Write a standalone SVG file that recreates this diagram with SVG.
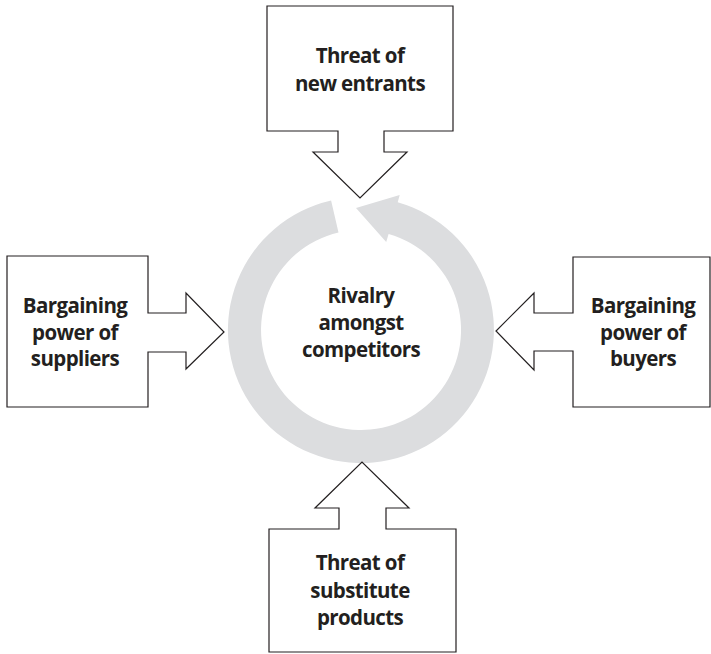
<svg xmlns="http://www.w3.org/2000/svg" width="711" height="654" viewBox="0 0 711 654">
<style>
.shape{fill:#ffffff;stroke:#231f20;stroke-width:1.2;stroke-linejoin:miter}
.lbl{font-family:"Open Sans","Liberation Sans",sans-serif;font-weight:700;font-size:20.5px;letter-spacing:-0.6px;fill:#231f20;text-anchor:middle}
.ring{fill:#dcdddf}
</style>
<rect width="711" height="654" fill="#ffffff"/>
<g id="rivalry">
<path class="ring" d="M397.7,202.2 A133,133 0 1,1 331.1,200.4 L338.5,232.6 A100,100 0 1,0 388.6,233.9 L386.2,242 L356,208 L399.7,194.9 Z"/>
<text class="lbl" x="361" y="303">Rivalry</text>
<text class="lbl" x="361" y="330">amongst</text>
<text class="lbl" x="361" y="357">competitors</text>
</g>
<g id="connectors">
<path class="shape" d="M267,6 H453 V131 H384 V152 H407 L360,198 L313,152 H338 V131 H267 Z"/>
<path class="shape" d="M7,256 H148 V313 H186 V293 L224,332 L186,369 V352 H148 V407 H7 Z"/>
<path class="shape" d="M573,257 H710 V407 H573 V351 H534 V370 L496,331 L534,293 V313 H573 Z"/>
<path class="shape" d="M269,529 H339 V508 H315 L362,462 L409,508 H386 V529 H456 V652 H269 Z"/>
</g>
<g id="new-entrants">
<text class="lbl" x="360" y="63">Threat of</text>
<text class="lbl" x="360" y="91">new entrants</text>
</g>
<g id="suppliers">
<text class="lbl" x="75" y="313">Bargaining</text>
<text class="lbl" x="75" y="340">power of</text>
<text class="lbl" x="75" y="366">suppliers</text>
</g>
<g id="buyers">
<text class="lbl" x="643" y="313">Bargaining</text>
<text class="lbl" x="643" y="340">power of</text>
<text class="lbl" x="643" y="366">buyers</text>
</g>
<g id="substitutes">
<text class="lbl" x="360" y="570">Threat of</text>
<text class="lbl" x="360" y="598">substitute</text>
<text class="lbl" x="360" y="625">products</text>
</g>
</svg>
